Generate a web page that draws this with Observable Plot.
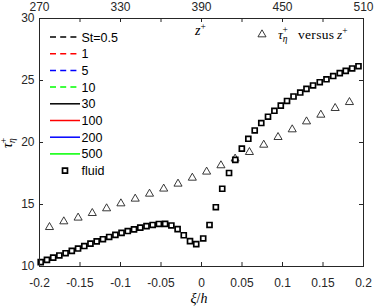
<!DOCTYPE html>
<html><head><meta charset="utf-8">
<script src="https://cdn.jsdelivr.net/npm/d3@7"></script>
<script src="https://cdn.jsdelivr.net/npm/@observablehq/plot@0.6"></script>
<style>
body{margin:0;background:#fff;}
#chart{width:374px;height:306px;}
</style></head><body><div id="chart"></div>
<script>
// ---- data ----
const xiTicks = [-0.2, -0.15, -0.1, -0.05, 0, 0.05, 0.1, 0.15, 0.2];
const yTicks = [10, 15, 20, 25, 30];
const zTickLabels = [270, 330, 390, 450, 510];

const fluidXi = [-0.1985, -0.1908, -0.1831, -0.1755, -0.1678, -0.1601, -0.1524, -0.1447, -0.1371, -0.1294,
  -0.1217, -0.1140, -0.1063, -0.0987, -0.0910, -0.0833, -0.0756, -0.0679, -0.0603, -0.0526,
  -0.0449, -0.0372, -0.0295, -0.0219, -0.0142, -0.0065,
  0.0021, 0.0099, 0.0177, 0.0256, 0.0340, 0.0417, 0.0498, 0.0578, 0.0657, 0.0738,
  0.0821, 0.0900, 0.0979, 0.1056, 0.1136, 0.1219, 0.1296, 0.1377, 0.1460, 0.1543,
  0.1626, 0.1707, 0.1781, 0.1860, 0.1938];
const fluidTau = [10.35, 10.53, 10.71, 10.89, 11.07, 11.26, 11.45, 11.65, 11.84, 12.02,
  12.20, 12.38, 12.55, 12.71, 12.86, 13.00, 13.13, 13.25, 13.35, 13.43,
  13.44, 13.31, 13.01, 12.52, 12.04, 11.80,
  12.26, 13.35, 14.78, 16.27, 17.54, 18.60, 19.50, 20.30, 20.97, 21.57,
  22.08, 22.56, 22.97, 23.35, 23.71, 24.03, 24.33, 24.60, 24.86, 25.10,
  25.36, 25.59, 25.78, 25.97, 26.15];

const triZ = [277.4, 288.0, 298.6, 309.1, 319.7, 330.3, 340.9, 351.5, 362.0, 372.6, 383.2,
  393.8, 404.4, 414.9, 425.5, 436.1, 446.7, 457.2, 467.8, 478.4, 489.0, 499.6];
const triTau = [13.17, 13.63, 13.93, 14.30, 14.68, 15.08, 15.46, 15.86, 16.27, 16.67, 17.15,
  17.64, 18.15, 18.69, 19.22, 19.81, 20.43, 21.05, 21.69, 22.23, 22.77, 23.25];

const stLabels = ["St=0.5", "1", "5", "10", "30", "100", "200", "500"];
const stColors = ["#000000", "#ff0000", "#0000ff", "#00ff00", "#000000", "#ff0000", "#0000ff", "#00ff00"];
const stDashed = [true, true, true, true, false, false, false, false];
const fluidLabel = "fluid";

// top axis (z+) maps linearly onto the xi range
const zMin = zTickLabels[0], zMax = zTickLabels[zTickLabels.length - 1];
const zToXi = z => -0.2 + (z - zMin) / (zMax - zMin) * 0.4;
const xiToZ = x => zMin + (x + 0.2) / 0.4 * (zMax - zMin);

const fluid = fluidXi.map((x, i) => ({x, y: fluidTau[i]}));
const tri = triZ.map((z, i) => ({x: zToXi(z), y: triTau[i]}));

// ---- layout ----
const W = 374, H = 306, mL = 39, mR = 11, mT = 18, mB = 40;
const fH = H - mT - mB, fW = W - mL - mR;
const ink = "#262626";
const sans = "'Liberation Sans', Arial, Helvetica, sans-serif";
const serif = "'Liberation Serif', 'Times New Roman', serif";

const chart = Plot.plot({
  width: W, height: H,
  marginLeft: mL, marginRight: mR, marginTop: mT, marginBottom: mB,
  style: {fontFamily: sans, fontSize: "12px", color: ink, background: "white"},
  x: {domain: [-0.2, 0.2], label: null},
  y: {domain: [10, 30], label: null},
  marks: [
    Plot.tickX(xiTicks, {x: d => d, insetTop: fH - 4, stroke: ink}),
    Plot.tickX(xiTicks, {x: d => d, insetBottom: fH - 4, stroke: ink}),
    Plot.tickY(yTicks, {y: d => d, insetRight: fW - 4, stroke: ink}),
    Plot.tickY(yTicks, {y: d => d, insetLeft: fW - 4, stroke: ink}),
    Plot.axisX({ticks: xiTicks, tickSize: 0, tickPadding: 12, tickFormat: d => String(d), label: null, fill: ink}),
    Plot.axisX({anchor: "top", ticks: zTickLabels.map(zToXi), tickSize: 0, tickPadding: 8,
      tickFormat: d => String(Math.round(xiToZ(d))), label: null, fill: ink}),
    Plot.axisY({ticks: yTicks, tickSize: 0, tickPadding: 5, label: null, fill: ink}),
    Plot.dot(tri, {x: "x", y: "y", symbol: "triangle", r: 3.0, stroke: "#222", strokeWidth: 0.9, fill: "white"}),
    Plot.dot(fluid, {x: "x", y: "y", symbol: "square", r: 2.8, stroke: "#000", strokeWidth: 1.7, fill: "white"}),
    Plot.frame({stroke: ink})
  ]
});
document.getElementById("chart").appendChild(chart);

// ---- annotations & legend ----
const svg = d3.select(chart);
const lg = svg.append("g").attr("font-family", sans).attr("font-size", 12.5).attr("fill", "#000")
  .attr("text-anchor", "start");
const rowY = i => 37 + i * 16.7;
stLabels.forEach((lab, i) => {
  const yy = rowY(i);
  lg.append("line").attr("x1", 50).attr("x2", 80).attr("y1", yy).attr("y2", yy)
    .attr("stroke", stColors[i]).attr("stroke-width", 1.5)
    .attr("stroke-dasharray", stDashed[i] ? "6,4.2" : null);
  lg.append("text").attr("x", 81.5).attr("y", yy).attr("dy", "0.36em").text(lab);
});
{
  const yy = rowY(stLabels.length);
  lg.append("path").attr("transform", `translate(65,${yy})`)
    .attr("d", d3.symbol(d3.symbolSquare, Math.PI * 2.8 * 2.8)())
    .attr("fill", "white").attr("stroke", "#000").attr("stroke-width", 1.7);
  lg.append("text").attr("x", 81.5).attr("y", yy).attr("dy", "0.36em").text(fluidLabel);
}

// triangle legend
const tg = svg.append("g").attr("font-family", serif).attr("font-size", 13.5).attr("fill", "#000")
  .attr("text-anchor", "start");
tg.append("path").attr("transform", "translate(262,34.5)")
  .attr("d", d3.symbol(d3.symbolTriangle, Math.PI * 9)())
  .attr("fill", "white").attr("stroke", "#222").attr("stroke-width", 0.9);
const tt = tg.append("text").attr("x", 278).attr("y", 39);
tt.append("tspan").attr("font-style", "italic").text("τ");
tt.append("tspan").attr("font-style", "italic").attr("font-size", 9.5).attr("dy", 3).text("η");
tt.append("tspan").attr("font-size", 9.5).attr("dx", -5).attr("dy", -9.5).text("+");
tt.append("tspan").attr("x", 298).attr("dy", 6.5).attr("letter-spacing", 0.3).text("versus");
tt.append("tspan").attr("x", 337).attr("font-style", "italic").text("z");
tt.append("tspan").attr("font-size", 9.5).attr("dy", -5).text("+");

// top axis title z+
const zt = svg.append("text").attr("font-family", serif).attr("font-size", 14).attr("fill", "#000")
  .attr("text-anchor", "start").attr("x", 195).attr("y", 35);
zt.append("tspan").attr("font-style", "italic").text("z");
zt.append("tspan").attr("font-size", 9.5).attr("dy", -5).text("+");

// x label
const xl = svg.append("text").attr("font-family", serif).attr("font-size", 14).attr("fill", "#000")
  .attr("x", 199).attr("y", 303).attr("text-anchor", "middle");
xl.append("tspan").attr("font-style", "italic").text("ξ");
xl.append("tspan").text("/");
xl.append("tspan").attr("font-style", "italic").text("h");

// y label
const yl = svg.append("text").attr("font-family", serif).attr("font-size", 14).attr("fill", "#000")
  .attr("transform", "translate(12,143) rotate(-90)").attr("text-anchor", "middle");
yl.append("tspan").attr("font-style", "italic").text("τ");
yl.append("tspan").attr("font-style", "italic").attr("font-size", 9.5).attr("dy", 3).text("η");
yl.append("tspan").attr("font-size", 9.5).attr("dx", -5).attr("dy", -8).text("+");
</script>
</body></html>
